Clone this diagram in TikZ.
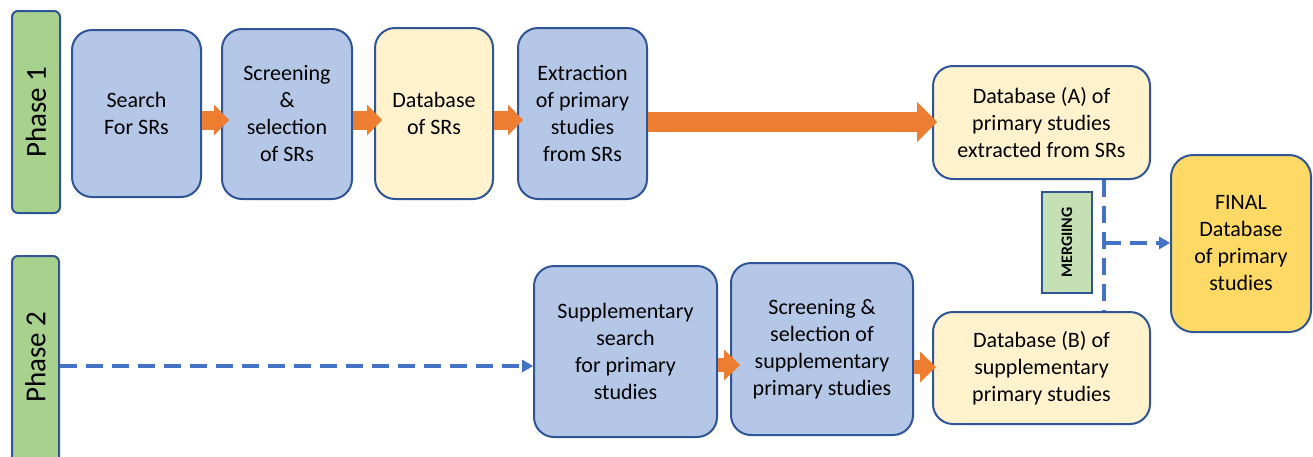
\documentclass[tikz,border=0pt]{standalone}
\usepackage{fontspec}
\usepackage{graphicx}
\setmainfont{Carlito}
\usetikzlibrary{arrows.meta,calc}
\definecolor{bfill}{HTML}{B4C7E7}
\definecolor{bdraw}{HTML}{2F5597}
\definecolor{yfill}{HTML}{FFF2CC}
\definecolor{gfill}{HTML}{A9D18E}
\definecolor{mfill}{HTML}{C5E0B4}
\definecolor{ffill}{HTML}{FFD966}
\definecolor{orng}{HTML}{ED7D31}
\definecolor{dblue}{HTML}{4472C4}
\begin{document}
\begin{tikzpicture}[x=1pt,y=-1pt,
  box/.style={draw=bdraw, line width=2pt, rounded corners=20pt, align=center,
    inner sep=0pt, font=\fontsize{22}{27}\selectfont},
  bluebox/.style={box, fill=bfill},
  yelbox/.style={box, fill=yfill},
  phasebar/.style={draw=bdraw, line width=2pt, rounded corners=6pt, fill=gfill,
    inner sep=0pt, font=\fontsize{29}{33}\selectfont},
  mergebox/.style={draw=bdraw, line width=1.6pt, fill=mfill, inner sep=0pt,
    font=\fontsize{16}{18}\selectfont\bfseries},
  oarrow/.style={draw=orng, line width=19pt,
    -{Triangle[length=15pt,width=31pt,line width=0pt]}},
  barrow/.style={draw=orng, line width=14pt,
    -{Triangle[length=16pt,width=31pt,line width=0pt]}},
  bigarrow/.style={draw=orng, line width=20pt,
    -{Triangle[length=20pt,width=40pt,line width=0pt]}},
  dline/.style={draw=dblue, line width=4pt, dash pattern=on 17pt off 9pt},
  darrow/.style={dline, -{Triangle[length=11pt,width=13pt,line width=0pt]}}
]
\useasboundingbox (0,0) rectangle (1313,456);
\fill[white] (0,0) rectangle (1313,456);

% phase bars
\node[phasebar, minimum width=48pt, minimum height=202pt] (ph1) at (36,112) {\rotatebox{90}{Phase 1}};
\node[phasebar, minimum width=47pt, minimum height=208pt] (ph2) at (35.5,360) {\raisebox{6pt}{\rotatebox{90}{Phase 2}}};

% phase 1 row
\node[bluebox, minimum width=129pt, minimum height=167pt] (s1) at (136.5,113.5) {Search\\For SRs};
\node[bluebox, minimum width=130pt, minimum height=170pt] (s2) at (287,114) {Screening\\\&\\selection\\of SRs};
\node[yelbox, minimum width=118pt, minimum height=171pt] (s3) at (434,113.5) {Database\\of SRs};
\node[bluebox, minimum width=129pt, minimum height=171pt] (s4) at (582.5,113.5) {Extraction\\of primary\\studies\\from SRs};
\node[yelbox, minimum width=217pt, minimum height=113pt] (dbA) at (1041.5,122.5) {Database (A) of\\primary studies\\extracted from SRs};

% final
\node[box, fill=ffill, rounded corners=22pt, minimum width=140pt, minimum height=177pt] (fin) at (1241,243.5) {FINAL\\Database\\of primary\\studies};

% merging
\node[mergebox, minimum width=50pt, minimum height=101pt] (mg) at (1067,242.5) {\rotatebox{90}{MERGIING}};

% phase 2 row
\node[bluebox, minimum width=183pt, minimum height=171pt] (p1) at (625.5,351.5) {Supplementary\\search\\for primary\\studies};
\node[bluebox, minimum width=182pt, minimum height=172pt] (p2) at (822,349) {Screening \&\\selection of\\supplementary\\primary studies};
\node[yelbox, minimum width=217pt, minimum height=112pt] (dbB) at (1041.5,368) {Database (B) of\\supplementary\\primary studies};

% orange arrows, phase 1
\draw[oarrow, shorten >=-8pt] ($(s1.east)+(0,6.5)$) -- ($(s2.west)+(0,6)$);
\draw[oarrow, shorten >=-8pt] ($(s2.east)+(0,6)$) -- ($(s3.west)+(0,6.5)$);
\draw[oarrow, shorten >=-6pt] ($(s3.east)+(0,6.5)$) -- ($(s4.west)+(0,6.5)$);
\coordinate (b0) at ($(s4.east)+(0,8.5)$);
\draw[bigarrow, shorten >=-5pt] (b0) -- (b0 -| dbA.west);

% orange arrows, phase 2
\draw[barrow, shorten >=-10pt] ($(p1.east)+(0,13.5)$) -- ($(p2.west)+(0,16)$);
\draw[barrow, shorten >=-4pt] ($(p2.east)+(0,18)$) -- ($(dbB.west)+(0,-1)$);

% dashed connectors
\coordinate (d0) at ($(ph2.east)+(0,6)$);
\draw[darrow] (d0) -- (d0 -| p1.west);
\coordinate (v1) at ($(dbA.south)+(62.5,0)$);
\coordinate (v2) at ($(dbB.north)+(62.5,0)$);
\draw[dline] (v1) -- (v2);
\coordinate (vj) at ($(v1)!0.48!(v2)$);
\draw[darrow] (vj) -- (vj -| fin.west);
\end{tikzpicture}
\end{document}
